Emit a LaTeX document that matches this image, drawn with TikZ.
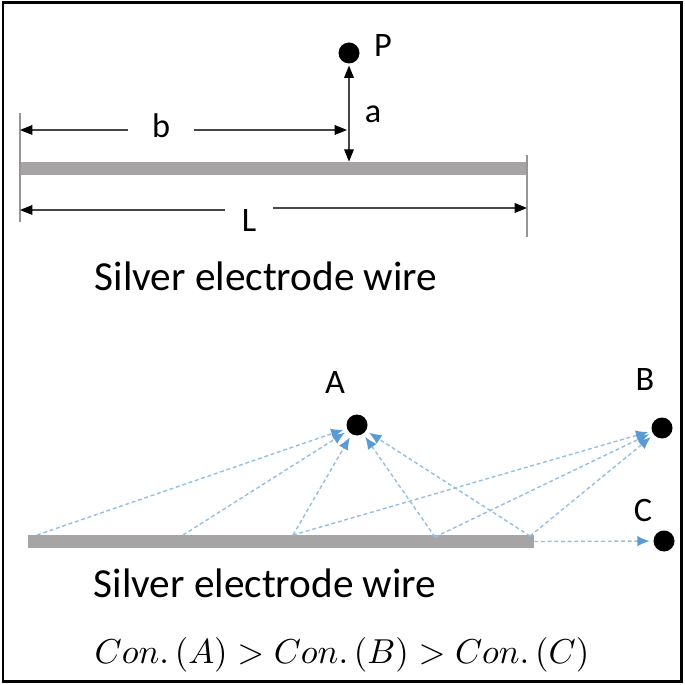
\documentclass[tikz,border=0pt]{standalone}
\usepackage{fontspec}
\setmainfont{Carlito}
\usetikzlibrary{arrows.meta}
\definecolor{WireGray}{RGB}{166,164,164}
\definecolor{DimGray}{RGB}{70,70,70}
\definecolor{TickGray}{RGB}{150,150,150}
\definecolor{FieldBlue}{RGB}{91,155,213}
\tikzstyle{Wire}=[rectangle,fill=WireGray,inner sep=0pt,minimum height=0.26cm]
\tikzstyle{Dot}=[circle,fill=black,inner sep=0pt,minimum size=0.42cm]
\tikzstyle{Tag}=[inner sep=1pt,font=\fontsize{19.5}{23}\selectfont]
\tikzstyle{Caption}=[inner sep=0pt,font=\fontsize{23.5}{28}\selectfont]
\tikzstyle{DimLine}=[DimGray,line width=0.6pt]
\tikzstyle{TickLine}=[TickGray,line width=0.9pt]
\tikzstyle{FieldLine}=[FieldBlue!65,line width=0.8pt,dash pattern=on 2.2pt off 1.6pt,
-{Latex[length=7pt,width=6pt,color=FieldBlue]},shorten >=2pt]

\begin{document}
\begin{tikzpicture}[x=0.02cm,y=-0.02cm,>={Triangle[length=7pt,width=5.5pt,color=black]}]
    \useasboundingbox(0,0)rectangle(685,685);
    \draw[line width=1.7pt](3,3)rectangle(681,681);
    % upper sketch: wire, point P and dimensions
    \node[Wire,minimum width=10.14cm](wireT)at(273.5,168.5){};
    \node[Dot](P)at(349,53){};
    \node[Tag](Plab)at(383,46){P};
    \node[Tag](alab)at(373,114){a};
    \node[Tag,inner xsep=0.47cm](blab)at(161,126){b};
    \node[Tag,inner xsep=0.33cm](Llab)at(249,221){L};
    \coordinate(tk1a)at(20,113);
    \coordinate(tk1b)at(20,222);
    \coordinate(tk2a)at(527,155);
    \coordinate(tk2b)at(527,237);
    \coordinate(bL)at(20,130);
    \coordinate(bR)at(347,130);
    \coordinate(LL)at(20,210);
    \coordinate(LR)at(527,208);
    \draw[TickLine](tk1a)--(tk1b);
    \draw[TickLine](tk2a)--(tk2b);
    \draw[DimLine,->](blab.west|-bL)--(bL);
    \draw[DimLine,->](blab.east|-bR)--(bR);
    \draw[DimLine,->](Llab.west|-LL)--(LL);
    \draw[DimLine,->](Llab.east|-LR)--(LR);
    \draw[DimLine,<->,shorten <=1pt](P.south)--(P|-wireT.north);
    \node[Caption](capT)at(266,276){Silver electrode wire};
    % lower sketch: field lines to A, B and C
    \node[Wire,minimum width=10.12cm](wireB)at(281,541.5){};
    \node[Dot](A)at(357,425){};
    \node[Dot](B)at(662,428){};
    \node[Dot](C)at(664,541){};
    \node[Tag](Alab)at(335,383){A};
    \node[Tag](Blab)at(645,380){B};
    \node[Tag](Clab)at(643,510){C};
    \coordinate(s1)at(37,535);
    \coordinate(s2)at(183,535);
    \coordinate(s3)at(293,535);
    \coordinate(s4)at(435,537);
    \coordinate(s5)at(530,536);
    \foreach \s in {s1,s2,s3,s4,s5}
        \draw[FieldLine](\s)--(A);
    \foreach \s in {s3,s4,s5}
        \draw[FieldLine](\s)--(B);
    \draw[FieldLine](wireB.east)--(C);
    \node[Caption](capB)at(265,583){Silver electrode wire};
    \node[inner sep=0pt,scale=1.97,transform shape](rank)at(342,655)
        {$Con.\,(A)>Con.\,(B)>Con.\,(C)$};
\end{tikzpicture}
\end{document}
